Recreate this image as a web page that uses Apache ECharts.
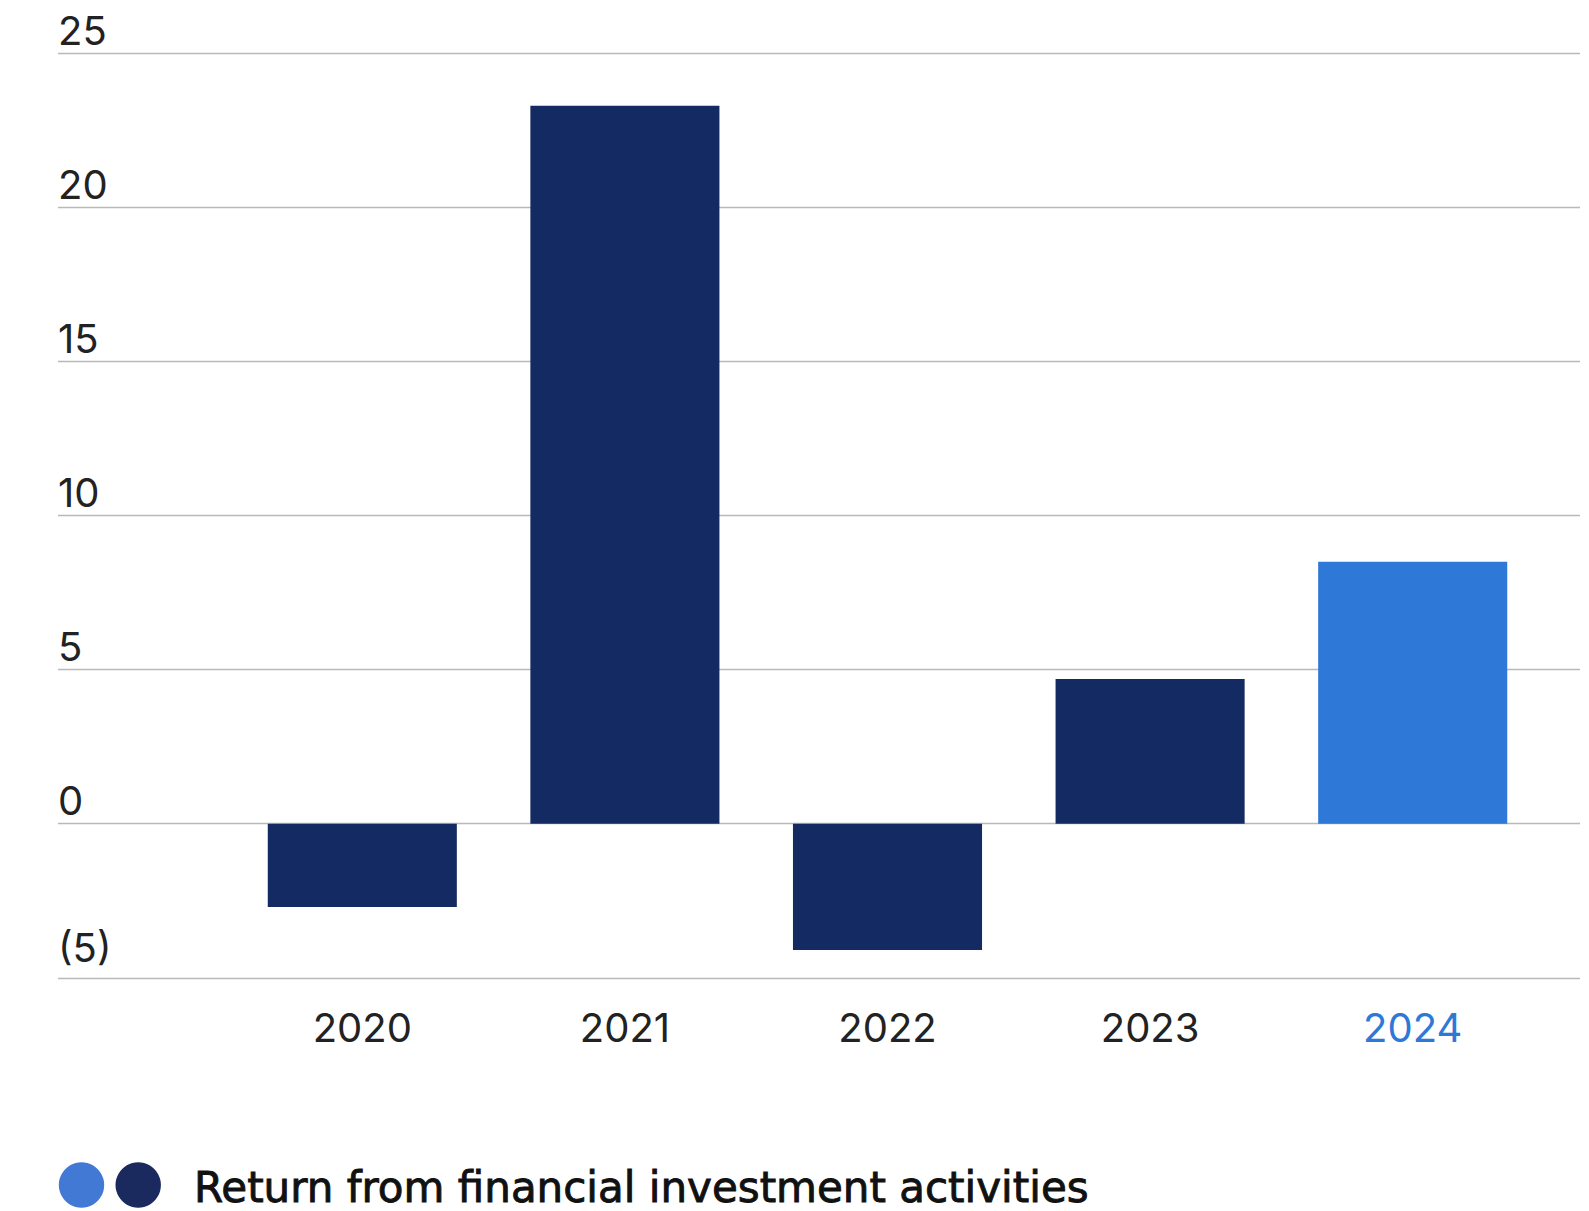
<!DOCTYPE html>
<html>
<head>
<meta charset="utf-8">
<script src="https://cdn.jsdelivr.net/npm/echarts@6/dist/echarts.min.js"></script>
<style>
html,body{margin:0;padding:0;background:#fff;}
#chart{width:1589px;height:1211px;}
</style>
</head>
<body>
<div id="chart"></div>
<script>
// ---- data ----
const categories = ['2020', '2021', '2022', '2023', '2024'];
const returns = [-2.7, 23.3, -4.1, 4.7, 8.5];
const highlightYear = '2024';
const yTicks = [-5, 0, 5, 10, 15, 20, 25];
const legendLabel = 'Return from financial investment activities';

// ---- styles ----
const DARK = '#142a62';
const BLUE = '#2e78d8';
const FONT = 'Inter';
const TOP = 53.3, BOTTOM = 1211 - 977.8;

const chart = echarts.init(document.getElementById('chart'), null, {renderer: 'svg'});

const fmt = v => v < 0 ? '{neg|(' + (-v) + ')}' : String(v);

chart.setOption({
  backgroundColor: '#fff',
  animation: false,
  grid: [
    {left: 58, right: 9, top: TOP, bottom: BOTTOM},
    {left: 231, right: 45, top: TOP, bottom: BOTTOM}
  ],
  xAxis: [
    {gridIndex: 0, type: 'value', show: false, min: 0, max: 1},
    {
      gridIndex: 1, type: 'category',
      data: categories.map(c => c === highlightYear ? {value: c, textStyle: {color: BLUE}} : c),
      axisLine: {show: false}, axisTick: {show: false},
      axisLabel: {fontFamily: FONT, fontSize: 40, color: '#222', margin: 30, lineHeight: 40}
    }
  ],
  yAxis: [
    {
      gridIndex: 0, type: 'value', min: yTicks[0], max: yTicks[yTicks.length - 1], interval: 5,
      axisLine: {show: false}, axisTick: {show: false},
      splitLine: {show: true, lineStyle: {color: '#b9b9b9', width: 1.3}},
      axisLabel: {
        inside: true, align: 'left', verticalAlign: 'bottom', margin: 0,
        fontFamily: FONT, fontSize: 40, color: '#222', lineHeight: 40,
        padding: [0, 0, 3, 0],
        formatter: fmt,
        rich: {
          neg: {fontFamily: FONT, fontSize: 40, color: '#222', lineHeight: 40, padding: [0, 0, 14, 0]}
        }
      }
    },
    {
      gridIndex: 1, type: 'value', min: yTicks[0], max: yTicks[yTicks.length - 1], interval: 5,
      show: false, splitLine: {show: false}
    }
  ],
  series: [{
    type: 'bar', xAxisIndex: 1, yAxisIndex: 1,
    barWidth: '72%',
    data: returns.map((v, i) => ({
      value: v,
      itemStyle: {color: categories[i] === highlightYear ? BLUE : DARK}
    }))
  }],
  graphic: [
    {type: 'circle', shape: {cx: 81.5, cy: 1185, r: 22.7}, style: {fill: '#4179d4'}},
    {type: 'circle', shape: {cx: 138.2, cy: 1185, r: 22.7}, style: {fill: '#1b2a5e'}},
    {type: 'text', x: 194, y: 1187, style: {
      text: legendLabel, fontFamily: 'DejaVu Sans', fontSize: 42, fontWeight: 'normal',
      fill: '#111', stroke: '#111', lineWidth: 0.9, verticalAlign: 'middle', align: 'left'
    }}
  ]
});
</script>
</body>
</html>
